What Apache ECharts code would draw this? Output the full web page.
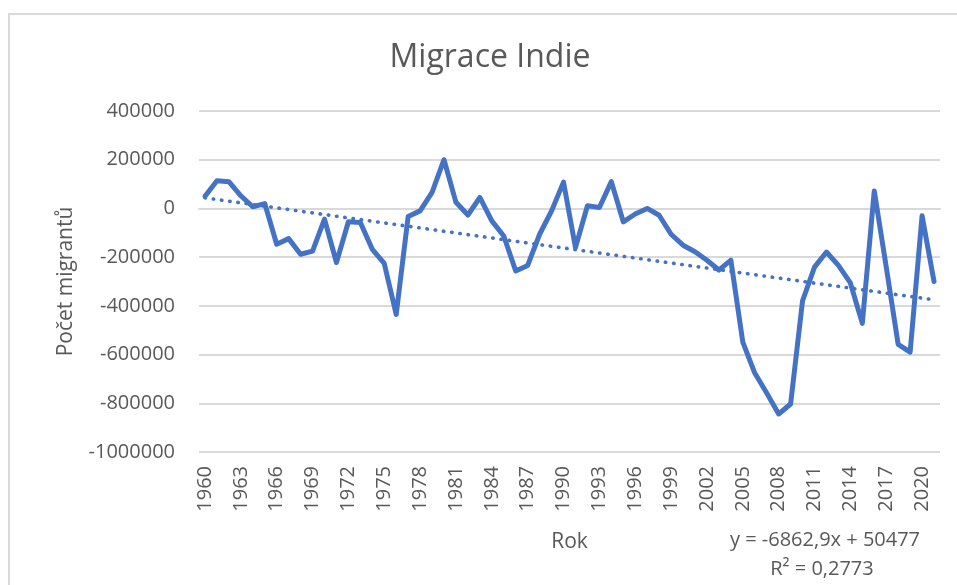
<!DOCTYPE html>
<html>
<head>
<meta charset="utf-8">
<script src="https://cdn.jsdelivr.net/npm/echarts@6/dist/echarts.min.js"></script>
<style>
html,body{margin:0;padding:0;background:#fff;}
#chart{width:957px;height:585px;}
</style>
</head>
<body>
<div id="chart"></div>
<script>
const years = [];
for (let y = 1960; y <= 2021; y++) years.push(String(y));

const migrants = [
  50000, 114000, 110000, 52000, 7000, 20000, -147000, -124000, -188000, -175000,
  -44000, -222000, -55000, -58000, -168000, -226000, -435000, -33000, -10000, 66000,
  200000, 25000, -27000, 45000, -51000, -113000, -257000, -234000, -106000, -10000,
  108000, -161000, 11000, 4000, 110000, -55000, -23000, 0, -28000, -106000,
  -151000, -178000, -213000, -253000, -212000, -549000, -676000, -758000, -844000, -803000,
  -379000, -241000, -179000, -234000, -306000, -472000, 72000, -240000, -558000, -590000,
  -30000, -300000
];

// Trendline end values (as displayed: y = -6862,9x + 50477 at x=1 and x=62)
const trendStart = 43614;
const trendEnd = -375023;

const yTicks = [-1000000, -800000, -600000, -400000, -200000, 0, 200000, 400000];

const titleText = 'Migrace Indie';
const yName = 'Počet migrantů';
const xName = 'Rok';
const eqText = 'y = -6862,9x + 50477';
const r2Text = 'R² = 0,2773';

const trendData = years.map((_, i) => i === 0 ? trendStart : (i === years.length - 1 ? trendEnd : null));

const txt = '#595959';
const font = "'Open Sans', sans-serif";
const blue = '#4472C4';

const chart = echarts.init(document.getElementById('chart'), null, {renderer: 'canvas'});
chart.setOption({
  animation: false,
  backgroundColor: '#fff',
  grid: {left: 199, right: 17, top: 111, bottom: 133},
  graphic: [
    {type: 'rect', shape: {x: 9, y: 14, width: 960, height: 600}, style: {fill: 'none', stroke: '#d9d9d9', lineWidth: 2}, z: -1},
    {type: 'text', x: 490, y: 58, style: {text: titleText, fill: txt, font: "32px 'Open Sans', sans-serif", textAlign: 'center', textVerticalAlign: 'middle'}},
    {type: 'text', x: 825, y: 540, style: {text: eqText, fill: txt, font: "20px 'Open Sans', sans-serif", textAlign: 'center', textVerticalAlign: 'middle'}},
    {type: 'text', x: 822, y: 569, style: {text: r2Text, fill: txt, font: "20px 'Open Sans', sans-serif", textAlign: 'center', textVerticalAlign: 'middle'}}
  ],
  xAxis: {
    type: 'category',
    data: years,
    boundaryGap: true,
    name: xName,
    nameLocation: 'middle',
    nameGap: 80,
    nameTextStyle: {color: txt, fontSize: 21, fontFamily: font},
    axisLine: {lineStyle: {color: '#d9d9d9', width: 2}},
    axisTick: {show: false},
    axisLabel: {interval: 2, rotate: 90, color: txt, fontSize: 20, fontFamily: font, margin: 14},
    splitLine: {show: false}
  },
  yAxis: {
    type: 'value',
    min: yTicks[0],
    max: yTicks[yTicks.length - 1],
    interval: 200000,
    name: yName,
    nameLocation: 'middle',
    nameGap: 122,
    nameTextStyle: {color: txt, fontSize: 21, fontFamily: font},
    axisLine: {show: false},
    axisTick: {show: false},
    axisLabel: {color: txt, fontSize: 20, fontFamily: font, margin: 24, formatter: v => String(v)},
    splitLine: {lineStyle: {color: '#d9d9d9', width: 2}}
  },
  series: [
    {
      type: 'line',
      data: migrants,
      symbol: 'none',
      lineStyle: {color: blue, width: 5, cap: 'round', join: 'round'},
      z: 3
    },
    {
      type: 'line',
      data: trendData,
      connectNulls: true,
      symbol: 'none',
      lineStyle: {color: blue, width: 3.6, type: [0.5, 7.8], cap: 'round'},
      z: 4
    }
  ]
});
</script>
</body>
</html>
